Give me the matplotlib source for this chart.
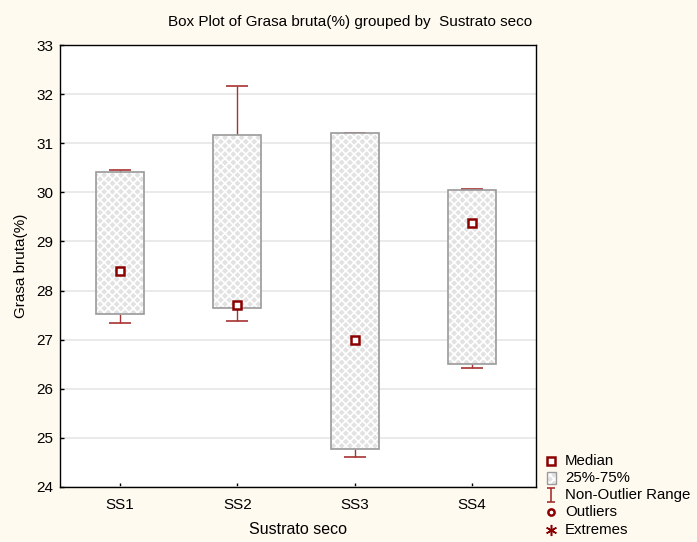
import matplotlib
matplotlib.use("Agg")
import matplotlib.pyplot as plt
from matplotlib.lines import Line2D
from matplotlib.patches import Rectangle
from matplotlib.path import Path
import numpy as np

plt.rcParams['font.family'] = ['Liberation Sans', 'DejaVu Sans']
plt.rcParams['hatch.linewidth'] = 1.2

categories = ["SS1", "SS2", "SS3", "SS4"]
medians = [28.40, 27.70, 27.00, 29.38]
q1 = [27.53, 27.65, 24.78, 26.50]
q3 = [30.42, 31.17, 31.20, 30.05]
whisk_lo = [27.34, 27.37, 24.62, 26.43]
whisk_hi = [30.45, 32.17, 31.20, 30.06]
y_ticks = [24, 25, 26, 27, 28, 29, 30, 31, 32, 33]

W, H = 697, 542
bg = '#FFFAF0'
red_dark = '#8B0000'
red_wh = '#A83232'
box_edge = '#9A9A9A'
box_face = '#E2E2E2'

fig = plt.figure(figsize=(W / 100, H / 100), dpi=100, facecolor=bg)
ax = fig.add_axes([60 / W, 1 - 487 / H, (536 - 60) / W, (487 - 45) / H])
ax.set_facecolor('white')

pos = np.arange(1, len(categories) + 1)
bw = 0.41
cw = 0.19

# whiskers and caps
ax.vlines(pos, whisk_lo, q1, color=red_wh, lw=1, zorder=2)
ax.vlines(pos, q3, whisk_hi, color=red_wh, lw=1, zorder=2)
ax.hlines(whisk_lo, pos - cw / 2, pos + cw / 2, color=red_wh, lw=1.2, zorder=2)
ax.hlines(whisk_hi, pos - cw / 2, pos + cw / 2, color=red_wh, lw=1.2, zorder=2)

# boxes: hatched fill, then outline
heights = np.array(q3) - np.array(q1)
ax.bar(pos, heights, bottom=q1, width=bw, color=box_face, hatch='xxxx',
       edgecolor='white', linewidth=0, zorder=3)
ax.bar(pos, heights, bottom=q1, width=bw, fill=False,
       edgecolor=box_edge, linewidth=1.2, zorder=4)

# medians
ax.plot(pos, medians, ls='none', marker='s', ms=6, mfc='white',
        mec=red_dark, mew=1.8, zorder=5)

ax.set_xlim(0.488, 4.546)
ax.set_ylim(24, 33)
ax.set_yticks(y_ticks)
ax.set_xticks(pos)
ax.set_xticklabels(categories)
ax.tick_params(direction='in', length=3, width=1, labelsize=11, colors='black')
ax.tick_params(axis='x', pad=8)
ax.tick_params(axis='y', pad=5)
ax.grid(axis='y', color='#E6E6E6', lw=1.2, zorder=0)
ax.set_axisbelow(True)
for s in ax.spines.values():
    s.set_color('black')
    s.set_linewidth(1)

ax.set_xlabel("Sustrato seco", fontsize=11.5, labelpad=7)
ax.set_ylabel("Grasa bruta(%)", fontsize=11, labelpad=6)
fig.text(350 / W, 1 - 22 / H, "Box Plot of Grasa bruta(%) grouped by  Sustrato seco",
         ha='center', va='center', fontsize=11)

# legend
def fx(x):
    return x / W

def fy(y):
    return 1 - y / H

ibeam = Path([(-0.55, 1), (0.55, 1), (0, 1), (0, -1), (-0.55, -1), (0.55, -1)],
             [Path.MOVETO, Path.LINETO, Path.MOVETO, Path.LINETO, Path.MOVETO, Path.LINETO])
entries = ["Median", "25%-75%", "Non-Outlier Range", "Outliers", "Extremes"]
ys = [461, 478, 495, 512, 530]
mx = 551
fig.add_artist(Line2D([fx(mx)], [fy(ys[0])], ls='none', marker='s', ms=5.5,
                      mfc='white', mec=red_dark, mew=1.8))
fig.add_artist(Rectangle((fx(547), fy(ys[1] + 6)), 9 / W, 12 / H,
                         facecolor=box_face, hatch='xxxx', edgecolor='white', lw=0))
fig.add_artist(Rectangle((fx(547), fy(ys[1] + 6)), 9 / W, 12 / H,
                         fill=False, edgecolor=box_edge, lw=1))
fig.add_artist(Line2D([fx(mx)], [fy(ys[2])], ls='none', marker=ibeam, ms=10,
                      mec=red_wh, mew=1.2))
fig.add_artist(Line2D([fx(mx)], [fy(ys[3])], ls='none', marker='o', ms=4.5,
                      mfc='white', mec=red_dark, mew=1.8))
fig.add_artist(Line2D([fx(mx)], [fy(ys[4])], ls='none', marker=(6, 2, 0), ms=8,
                      mec=red_dark, mew=1.1))
for t, y in zip(entries, ys):
    fig.text(fx(565), fy(y), t, ha='left', va='center', fontsize=10.8)

fig.savefig("out.png", dpi=100, facecolor=bg)
